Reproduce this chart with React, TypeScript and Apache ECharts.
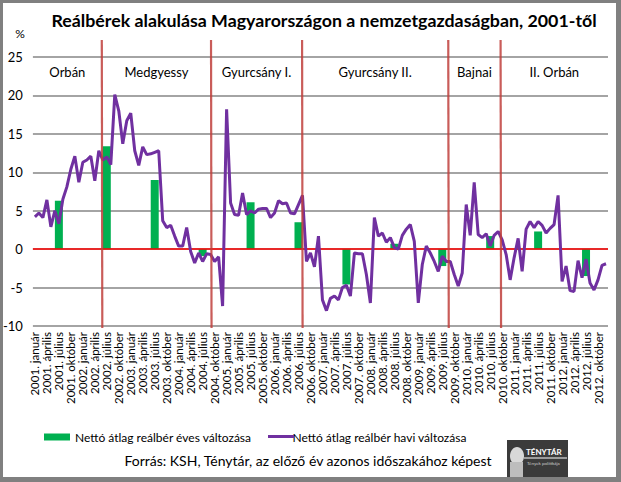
import React, { useEffect, useRef } from 'react';
import * as echarts from 'echarts';

const years = [2001, 2002, 2003, 2004, 2005, 2006, 2007, 2008, 2009, 2010, 2011, 2012];
const monthNames = ['január', 'február', 'március', 'április', 'május', 'június', 'július', 'augusztus', 'szeptember', 'október', 'november', 'december'];
const categories = years.flatMap((y) => monthNames.map((m) => `${y}. ${m}`));

// Nettó átlag reálbér havi változása (%), 2001 január – 2012 december
const monthlyChange = [
  4.2, 4.7, 4.1, 6.4, 2.9, 5.0, 3.3, 6.5, 8.1, 10.4, 12.1, 8.7,
  11.3, 11.6, 12.1, 8.9, 12.8, 11.6, 12.0, 11.0, 20.1, 18.0, 13.7, 16.7,
  17.7, 12.8, 10.9, 13.3, 12.3, 12.4, 12.6, 12.8, 3.7, 2.8, 3.1, 1.7,
  0.4, 0.4, 2.8, -0.3, -1.8, -0.5, -1.6, -0.6, -0.7, -1.6, -1.0, -7.4,
  18.2, 6.0, 4.5, 4.4, 7.3, 4.5, 5.0, 4.7, 5.2, 5.3, 5.3, 4.1,
  4.7, 6.3, 5.9, 6.0, 4.7, 4.6, 5.8, 7.0, -1.6, -0.5, -2.3, 1.7,
  -6.6, -8.0, -6.4, -6.1, -6.6, -5.0, -4.7, -6.1, -0.5, -0.6, -0.6, -3.3,
  -7.0, 4.1, 1.7, 2.1, 0.9, 1.5, 0.2, 0.0, 1.8, 2.6, 3.2, 1.0,
  -7.0, -2.0, 0.4, -0.5, -1.6, -2.9, -0.9, -1.6, -1.6, -3.3, -4.8, -3.1,
  5.8, 1.8, 8.7, 1.9, 1.5, 2.0, 0.4, 1.8, 2.3, 1.2, -0.7, -4.0,
  -1.1, 1.4, -2.9, 2.6, 3.6, 2.8, 3.6, 3.1, 2.1, 2.7, 3.2, 7.0,
  -4.2, -2.2, -5.4, -5.5, -1.5, -3.7, -1.3, -4.4, -5.3, -4.0, -2.1, -1.9,
];

// Nettó átlag reálbér éves változása (%), one value per year, shown at July
const annualChange = [6.3, 13.4, 9.0, -0.9, 6.1, 3.5, -4.6, 0.7, -2.2, 1.7, 2.3, -3.5];
const annualMonth = 'július';

const yMin = -10;
const yMax = 25;
const yStep = 5;

const periodNames = ['Orbán', 'Medgyessy', 'Gyurcsány I.', 'Gyurcsány II.', 'Bajnai', 'II. Orbán'];
// government changes, as positions on the monthly axis (month index)
const periodChanges = [16.75, 44.1, 66.9, 103.5, 116.6];

const barName = 'Nettó átlag reálbér éves változása';
const lineName = 'Nettó átlag reálbér havi változása';
const titleText = 'Reálbérek alakulása Magyarországon a nemzetgazdaságban, 2001-től';
const sourceText = 'Forrás: KSH, Ténytár, az előző év azonos időszakához képest';

const FONT = 'Lato, "Liberation Sans", sans-serif';
const LINE_COLOR = '#7030A0';

export default function App() {
  const ref = useRef<HTMLDivElement>(null);
  useEffect(() => {
    if (!ref.current) return;
    const chart = echarts.init(ref.current, undefined, { renderer: 'svg' });
    const barData = categories.map((c) => {
      const [y, m] = c.split('. ');
      if (m !== annualMonth) return null;
      return annualChange[years.indexOf(Number(y))];
    });
    chart.setOption({
      animation: false,
      backgroundColor: '#ffffff',
      textStyle: { fontFamily: FONT },
      grid: { left: 31, right: 13, top: 57, bottom: 156, containLabel: false },
      legend: {
        left: 39,
        top: 426,
        itemWidth: 26,
        itemHeight: 7,
        itemGap: 10,
        textStyle: { fontSize: 12, color: '#000', fontFamily: FONT },
        data: [
          { name: barName, icon: 'rect' },
          { name: lineName, icon: 'none' },
        ],
      },
      xAxis: {
        type: 'category',
        data: categories,
        boundaryGap: true,
        axisLine: { show: false },
        axisTick: { show: false },
        splitLine: { show: false },
        axisLabel: {
          interval: 2,
          rotate: 90,
          fontSize: 11.5,
          color: '#000',
          margin: 6,
          fontFamily: FONT,
        },
      },
      yAxis: {
        type: 'value',
        min: yMin,
        max: yMax,
        interval: yStep,
        name: '%',
        nameLocation: 'end',
        nameGap: 18,
        nameTextStyle: { fontSize: 12, color: '#000', align: 'right', padding: [0, 8, 0, 0] },
        axisLine: { show: false },
        axisTick: { show: false },
        axisLabel: { fontSize: 13, color: '#000', margin: 10, fontFamily: FONT },
        splitLine: { show: true, lineStyle: { color: '#868686', width: 1.5 } },
      },
      series: [
        {
          name: barName,
          type: 'bar',
          data: barData,
          barWidth: 8,
          itemStyle: { color: '#00B050' },
          z: 2,
        },
        {
          name: lineName,
          type: 'line',
          data: monthlyChange,
          symbol: 'none',
          showSymbol: false,
          lineStyle: { color: LINE_COLOR, width: 3 },
          itemStyle: { color: LINE_COLOR },
          z: 4,
          markLine: {
            silent: true,
            symbol: 'none',
            label: { show: false },
            lineStyle: { color: '#FF0000', width: 1.5, type: 'solid' },
            data: [{ yAxis: 0 }],
            z: 3,
          },
        },
      ],
    });

    const xPix = (idx: number) => {
      const a = Math.floor(idx);
      const p0 = chart.convertToPixel({ xAxisIndex: 0 }, a) as number;
      const p1 = chart.convertToPixel({ xAxisIndex: 0 }, a + 1) as number;
      return p0 + (p1 - p0) * (idx - a);
    };
    const yTop = chart.convertToPixel({ yAxisIndex: 0 }, yMax) as number;
    const yBottom = chart.convertToPixel({ yAxisIndex: 0 }, yMin) as number;
    const xLeft = xPix(0) - (xPix(1) - xPix(0)) / 2;
    const xRight = xPix(categories.length - 1) + (xPix(1) - xPix(0)) / 2;

    const bounds = [xLeft, ...periodChanges.map(xPix), xRight];
    const elements: any[] = [];
    periodChanges.forEach((p) => {
      const x = xPix(p);
      elements.push({
        type: 'line',
        z: 100,
        shape: { x1: x, y1: yTop - 17, x2: x + 0.5, y2: yBottom + 2 },
        style: { stroke: 'rgba(192,64,60,0.85)', lineWidth: 2.2 },
      });
    });
    periodNames.forEach((n, i) => {
      elements.push({
        type: 'text',
        z: 100,
        x: (bounds[i] + bounds[i + 1]) / 2,
        y: yTop + 15,
        style: { text: n, fontSize: 13, fill: '#000', align: 'center', verticalAlign: 'middle', fontFamily: FONT },
      });
    });
    elements.push({
      type: 'text',
      z: 100,
      x: 324,
      y: 20,
      style: { text: titleText, fontSize: 17.8, fontWeight: 'bold', fill: '#000', align: 'center', verticalAlign: 'middle', fontFamily: FONT },
    });
    elements.push({
      type: 'text',
      z: 100,
      x: 308,
      y: 460,
      style: { text: sourceText, fontSize: 14, fill: '#000', align: 'center', verticalAlign: 'middle', fontFamily: FONT },
    });
    // legend line icon for the monthly series (drawn as a plain line, no marker)
    elements.push({
      type: 'line',
      z: 100,
      shape: { x1: 268, y1: 436.5, x2: 294, y2: 436.5 },
      style: { stroke: LINE_COLOR, lineWidth: 3 },
    });
    // Ténytár logo
    elements.push({
      type: 'group',
      z: 100,
      children: [
        { type: 'rect', shape: { x: 507, y: 440, width: 61, height: 40 }, style: { fill: '#3b3b3b' } },
        { type: 'ellipse', shape: { cx: 517, cy: 456, rx: 7, ry: 9 }, style: { fill: '#d8d8d8' } },
        { type: 'rect', shape: { x: 510, y: 462, width: 13, height: 15 }, style: { fill: '#bdbdbd' } },
        { type: 'text', x: 526, y: 452, style: { text: 'TÉNYTÁR', fontSize: 8, fontWeight: 'bold', fill: '#ffffff', verticalAlign: 'middle', fontFamily: FONT } },
        { type: 'line', shape: { x1: 524, y1: 458, x2: 567, y2: 458 }, style: { stroke: '#ffffff', lineWidth: 1 } },
        { type: 'text', x: 527, y: 463, style: { text: 'Tények politikája', fontSize: 4.5, fill: '#cccccc', verticalAlign: 'middle', fontFamily: FONT } },
      ],
    });
    // outer frame
    elements.push({
      type: 'rect',
      z: 101,
      shape: { x: 1.5, y: 1.5, width: 616, height: 477 },
      style: { fill: 'none', stroke: '#808080', lineWidth: 3 },
    });
    elements.push({
      type: 'rect',
      z: 101,
      shape: { x: 616, y: 0, width: 5, height: 482 },
      style: { fill: '#808080' },
    });
    elements.push({
      type: 'rect',
      z: 101,
      shape: { x: 0, y: 478, width: 621, height: 4 },
      style: { fill: '#808080' },
    });
    chart.setOption({ graphic: { elements } });

    return () => chart.dispose();
  }, []);
  return <div ref={ref} style={{ position: 'absolute', left: 0, top: 0, width: 621, height: 482 }} />;
}
